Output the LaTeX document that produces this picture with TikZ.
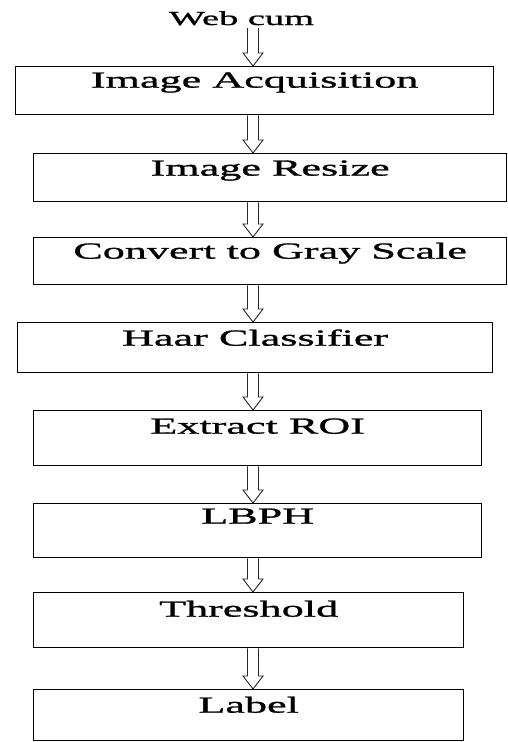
\documentclass[tikz,border=0pt]{standalone}
\usepackage{fontspec}
\setmainfont{Liberation Serif}
\newfontfamily\boxfont[FakeStretch=1.92,FakeBold=1.2]{Liberation Serif}
\usetikzlibrary{calc}
\begin{document}
\begin{tikzpicture}[x=1pt,y=-1pt,
  box/.style={draw=black, line width=1.3pt, rectangle, inner sep=0pt, anchor=north west,
    font=\boxfont\fontsize{23}{23}\selectfont},
  hollow/.style={line width=0.9pt, draw=black!85, to path={let \p1=(\tikztostart), \p2=(\tikztotarget) in
    (\x1-5.5pt,\y1) -- (\x1-5.5pt,\y2+13pt) -- (\x1-10pt,\y2+13pt) -- (\x2,\y2)
    -- (\x1+10pt,\y2+13pt) -- (\x1+5.5pt,\y2+13pt) -- (\x1+5.5pt,\y1)}}]
\useasboundingbox (0,0) rectangle (507,742);
\coordinate (ax) at (253,0);
\node[anchor=base, inner sep=0pt, font=\boxfont\fontsize{20}{20}\selectfont] (web) at (241.5,25) {Web cum};
\coordinate (w0) at (253,28);
\node[box, minimum width=478pt, text height=21pt, text depth=27pt] (b1) at (15,66) {Image Acquisition};
\node[box, minimum width=473pt, text height=22pt, text depth=26pt] (b2) at (33,153) {Image Resize};
\node[box, minimum width=473pt, text height=21pt, text depth=26pt] (b3) at (33,237) {Convert to Gray Scale};
\node[box, minimum width=475pt, text height=23pt, text depth=27pt] (b4) at (17,322) {Haar Classifier};
\node[box, minimum width=448pt, text height=23pt, text depth=32pt] (b5) at (33,410) {Extract ROI};
\node[box, minimum width=448pt, text height=20pt, text depth=34pt] (b6) at (33,503) {LBPH};
\node[box, minimum width=430pt, text height=24pt, text depth=31pt] (b7) at (33,592) {Threshold};
\node[box, minimum width=430pt, text height=23pt, text depth=28pt] (b8) at (33,689) {Label};
\draw[hollow] (w0) to (b1.north -| ax);
\draw[hollow] (b1.south -| ax) to (b2.north -| ax);
\draw[hollow] (b2.south -| ax) to (b3.north -| ax);
\draw[hollow] (b3.south -| ax) to (b4.north -| ax);
\draw[hollow] (b4.south -| ax) to (b5.north -| ax);
\draw[hollow] (b5.south -| ax) to (b6.north -| ax);
\draw[hollow] (b6.south -| ax) to (b7.north -| ax);
\draw[hollow] (b7.south -| ax) to (b8.north -| ax);
\end{tikzpicture}
\end{document}
